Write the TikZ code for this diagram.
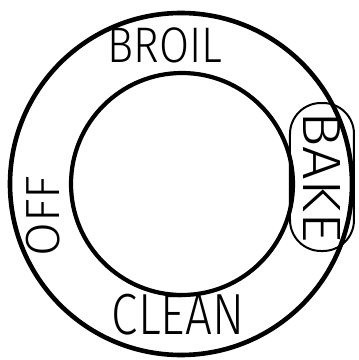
\documentclass[tikz,border=0pt]{standalone}
\usepackage{graphicx}
\usepackage{fontspec}
\setmainfont{Fira Sans}[UprightFont=* Light]
\usetikzlibrary{positioning}
\tikzset{ring/.style={line width=4.6pt},dialtext/.style={inner sep=0pt,font=\fontsize{48}{48}\selectfont},selected/.style={draw,line width=2pt,rounded corners=31pt,minimum width=148pt,minimum height=64pt}}

\begin{document}
\begin{tikzpicture}[x=1pt,y=1pt]
\useasboundingbox (0,0) rectangle (359,360);
\coordinate (outer) at (181,176); \coordinate (inner) at (182,176);
\draw[ring] (outer) circle[radius=171];
\draw[ring,line width=4.2pt] (inner) circle[radius=111];
\node[dialtext,font=\fontsize{50}{50}\selectfont] (broil) at (165,315) {\scalebox{.87}[1]{BROIL}};
\node[dialtext,font=\fontsize{58}{58}\selectfont] (clean) at (178,45) {\scalebox{.82}[1]{CLEAN}};
\node[dialtext,font=\fontsize{48}{48}\selectfont,rotate=90] (off) at (43,144) {\scalebox{1.02}[1]{OFF}};
\node[dialtext,font=\fontsize{54}{54}\selectfont,selected,rotate=-90] (bake) at (322,183) {\scalebox{1.1}[1]{BAKE}};
\end{tikzpicture}
\end{document}
